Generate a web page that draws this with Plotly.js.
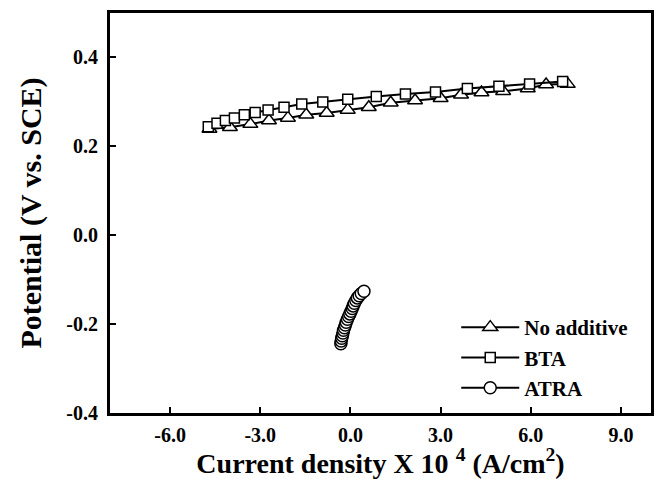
<!DOCTYPE html>
<html>
<head>
<meta charset="utf-8">
<script src="https://cdn.plot.ly/plotly-3.0.1.min.js"></script>
<style>html,body{margin:0;padding:0;background:#fff;}#chart{width:654px;height:479px;}</style>
</head>
<body>
<div id="chart"></div>
<script>
// Series: No additive (triangles)
const noAddX = [-4.69,-4.01,-3.33,-2.71,-2.08,-1.47,-0.79,-0.09,0.61,1.34,2.15,3.00,3.68,4.36,5.08,5.90,6.51,7.23];
const noAddY = [0.239,0.243,0.250,0.258,0.264,0.271,0.275,0.282,0.288,0.298,0.303,0.308,0.316,0.321,0.324,0.330,0.339,0.340];
// Series: BTA (squares)
const btaX = [-4.73,-4.44,-4.16,-3.86,-3.53,-3.17,-2.74,-2.21,-1.62,-0.92,-0.09,0.86,1.83,2.83,3.89,4.94,5.96,7.06];
const btaY = [0.244,0.252,0.258,0.264,0.271,0.276,0.282,0.288,0.295,0.300,0.306,0.312,0.318,0.322,0.330,0.335,0.340,0.346];
// Series: ATRA (circles)
const atraX = [-0.32,-0.31,-0.29,-0.27,-0.25,-0.23,-0.20,-0.17,-0.14,-0.10,-0.06,-0.02,0.02,0.06,0.09,0.13,0.18,0.23,0.29,0.36,0.45];
const atraY = [-0.244,-0.238,-0.232,-0.226,-0.220,-0.214,-0.208,-0.202,-0.196,-0.189,-0.183,-0.177,-0.171,-0.165,-0.159,-0.153,-0.147,-0.141,-0.136,-0.131,-0.126];
const seriesNames = ["No additive","BTA","ATRA"];
// Tick labels
const xTickVals = [-6,-3,0,3,6,9];
const xTickText = ["-6.0","-3.0","0.0","3.0","6.0","9.0"];
const yTickVals = [-0.4,-0.2,0,0.2,0.4];
const yTickText = ["-0.4","-0.2","0.0","0.2","0.4"];

const serif = "Liberation Serif, Times New Roman, serif";
function tr(x, y, name, symbol, size) {
  return {
    x: x, y: y, name: name, type: "scatter", mode: "lines+markers",
    line: {color: "#000", width: 2},
    marker: {symbol: symbol, size: size, color: "#fff", line: {color: "#000", width: 1.5}},
    cliponaxis: false
  };
}
const data = [
  tr(noAddX, noAddY, seriesNames[0], "triangle-up", 13),
  tr(btaX, btaY, seriesNames[1], "square", 10),
  tr(atraX, atraY, seriesNames[2], "circle", 12)
];
const layout = {
  width: 654, height: 479,
  margin: {l: 110, r: 3, t: 13, b: 66},
  paper_bgcolor: "#fff", plot_bgcolor: "#fff",
  font: {family: serif, color: "#000"},
  showlegend: true,
  legend: {
    x: 0.64, y: 0.265, xanchor: "left", yanchor: "top",
    bgcolor: "rgba(0,0,0,0)", borderwidth: 0,
    font: {family: serif, size: 21, color: "#000", weight: "bold"},
    itemwidth: 58, tracegroupgap: 0
  },
  xaxis: {
    range: [-8, 10], tickvals: xTickVals, ticktext: xTickText,
    ticks: "inside", ticklen: 6, tickwidth: 2, tickcolor: "#000",
    showline: true, linewidth: 3, linecolor: "#000", mirror: true,
    showgrid: false, zeroline: false,
    tickfont: {family: serif, size: 20, color: "#000", weight: "bold"},
    ticklabelstandoff: 2,
    title: {text: "Current density X 10 <sup>4</sup> (A/cm<sup>2</sup>)", standoff: 4,
            font: {family: serif, size: 28, color: "#000", weight: "bold"}},
    automargin: false
  },
  yaxis: {
    range: [-0.4, 0.5], tickvals: yTickVals, ticktext: yTickText,
    ticks: "inside", ticklen: 6, tickwidth: 2, tickcolor: "#000",
    showline: true, linewidth: 3, linecolor: "#000", mirror: true,
    showgrid: false, zeroline: false,
    tickfont: {family: serif, size: 20, color: "#000", weight: "bold"},
    ticklabelstandoff: 5,
    title: {text: "Potential (V vs. SCE)", standoff: 16,
            font: {family: serif, size: 30, color: "#000", weight: "bold"}},
    automargin: false
  }
};
Plotly.newPlot("chart", data, layout, {displayModeBar: false, staticPlot: true});
</script>
</body>
</html>
